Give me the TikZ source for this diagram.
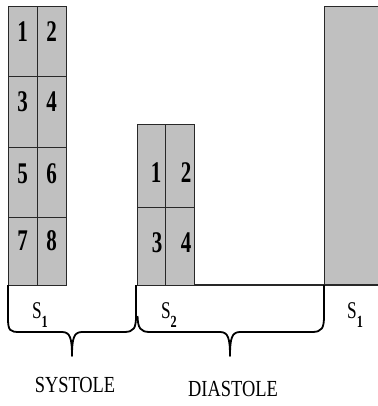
\documentclass[tikz,border=0pt]{standalone}
\usepackage{fontspec}
\setmainfont{Liberation Serif}
\definecolor{cellgray}{RGB}{192,192,192}
\definecolor{edge}{RGB}{40,40,40}
\begin{document}
\begin{tikzpicture}[x=1pt,y=-1pt,
  cell/.style={draw=edge, line width=1pt, fill=cellgray, inner sep=0pt, minimum width=29pt, minimum height=70pt},
  mcell/.style={draw=edge, line width=1pt, fill=cellgray, inner sep=0pt, minimum width=28.5pt},
  digit/.style={inner sep=0pt, font=\bfseries\fontsize{30}{32}\selectfont, xscale=0.7},
  slabel/.style={inner sep=0pt, font=\fontsize{24}{26}\selectfont, xscale=0.72},
  phase/.style={inner sep=0pt, font=\fontsize{23}{26}\selectfont, xscale=0.8},
  brace/.style={draw=black, line width=1.8pt, line join=round}]
\useasboundingbox (0,0) rectangle (377,406);
% right block
\fill[cellgray] (324,7) rectangle (380,285);
\draw[edge, line width=1pt] (380,7) -- (324,7) -- (324,285);
% baseline
\coordinate (b0) at (137,285);
\coordinate (b1) at (380,285);
\draw[edge, line width=1.2pt] (b0) -- (b1);
% left stack
\foreach \r/\yc in {0/42,1/112,2/182} {
  \node[cell] (L\r a) at (22.5,\yc) {};
  \node[cell] (L\r b) at (51.5,\yc) {};
}
\node[cell, minimum height=68pt] (L3a) at (22.5,251) {};
\node[cell, minimum height=68pt] (L3b) at (51.5,251) {};
\node[digit] (n1) at (22.5,32) {1};
\node[digit] (n2) at (51.5,32) {2};
\node[digit] (n3) at (22.5,102) {3};
\node[digit] (n4) at (51.5,102) {4};
\node[digit] (n5) at (22.5,174) {5};
\node[digit] (n6) at (51.5,174) {6};
\node[digit] (n7) at (22.5,241) {7};
\node[digit] (n8) at (51.5,241) {8};
% middle stack
\node[mcell, minimum height=82pt] (M0a) at (151.5,166) {};
\node[mcell, minimum height=82pt] (M0b) at (180,166) {};
\node[mcell, minimum height=78pt] (M1a) at (151.5,246) {};
\node[mcell, minimum height=78pt] (M1b) at (180,246) {};
\node[digit] (m1) at (156,173) {1};
\node[digit] (m2) at (186,173) {2};
\node[digit] (m3) at (157,243) {3};
\node[digit] (m4) at (186,243) {4};
% braces
\draw[brace] (8,285) -- (8,318) .. controls (8,331) and (10,332) .. (20,332)
  -- (62,332) .. controls (70,332) and (72,338) .. (72,356)
  .. controls (72,338) and (74,332) .. (82,332)
  -- (124,332) .. controls (134,332) and (136,328) .. (136,316) -- (136,285);
\draw[brace] (137.5,316) .. controls (138,328) and (140,332) .. (150,332)
  -- (220,332) .. controls (228,332) and (230,338) .. (230,356)
  .. controls (230,338) and (232,332) .. (240,332)
  -- (312,332) .. controls (322,332) and (324,328) .. (324,316) -- (324,285);
% labels
\node[slabel] (s1) at (40,315) {S\raisebox{-0.4em}{\bfseries\fontsize{17}{17}\selectfont 1}};
\node[slabel] (s2) at (169,315) {S\raisebox{-0.4em}{\bfseries\fontsize{17}{17}\selectfont 2}};
\node[slabel] (s3) at (355,315) {S\raisebox{-0.4em}{\bfseries\fontsize{17}{17}\selectfont 1}};
\node[phase] (sys) at (75,385) {SYSTOLE};
\node[phase] (dia) at (233,389) {DIASTOLE};
\end{tikzpicture}
\end{document}
